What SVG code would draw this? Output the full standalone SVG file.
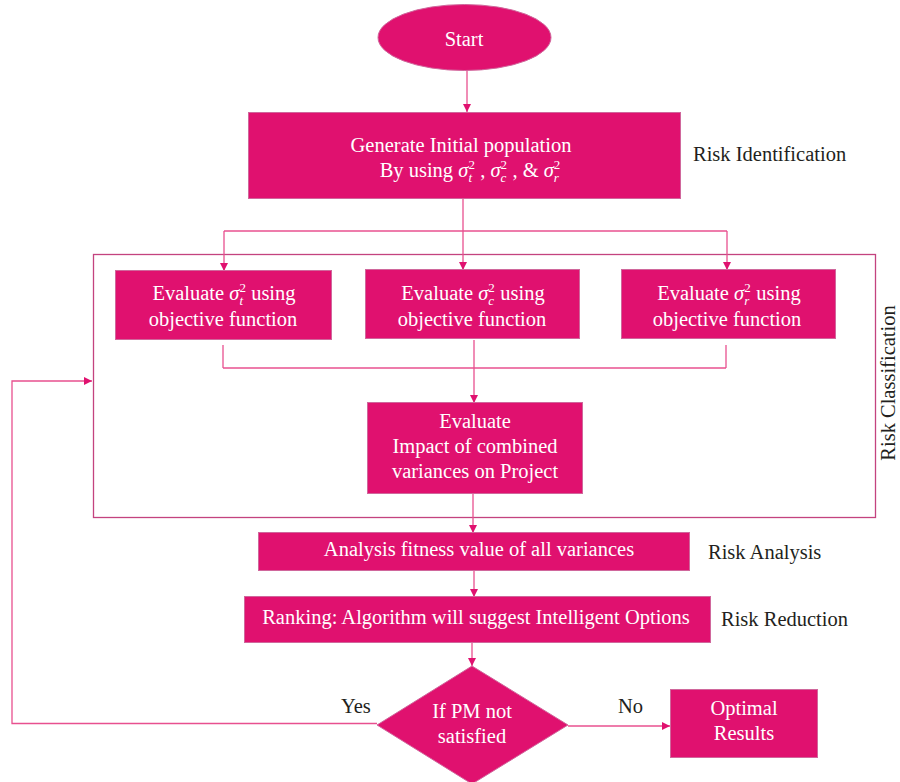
<svg xmlns="http://www.w3.org/2000/svg" width="900" height="782" viewBox="0 0 900 782">
<defs>
<marker id="ah" viewBox="0 0 10 10" refX="10" refY="5" markerWidth="8" markerHeight="8" markerUnits="userSpaceOnUse" orient="auto">
<path d="M0,0 L10,5 L0,10 z" fill="#E0116F"/>
</marker>
<style>
.box{fill:#E0116F;stroke:#D0679C;stroke-width:1}
.wt{fill:#FFFFFF;font-family:"Liberation Serif",serif;font-size:20.5px;text-anchor:middle}
.lb{fill:#231F20;font-family:"Liberation Serif",serif;font-size:20.5px}
.cn{fill:none;stroke:#E8508F;stroke-width:1.3}
.ar{fill:none;stroke:#E8508F;stroke-width:1.3;marker-end:url(#ah)}
.it{font-style:italic}
.sm{font-size:13px}
</style>
</defs>
<rect x="0" y="0" width="900" height="782" fill="#FFFFFF"/>

<g id="classification-frame">
<rect x="93.5" y="254.5" width="782" height="263" fill="none" stroke="#C4437F" stroke-width="1.3"/>
<text class="lb" transform="translate(895,383) rotate(-90)" text-anchor="middle">Risk Classification</text>
</g>

<g id="connectors">
<line class="ar" x1="467" y1="70" x2="467" y2="112"/>
<line class="cn" x1="463" y1="199" x2="463" y2="231"/>
<polyline class="cn" points="224,231 727,231"/>
<line class="ar" x1="224" y1="231" x2="224" y2="271"/>
<line class="ar" x1="463" y1="231" x2="463" y2="270"/>
<line class="ar" x1="727" y1="231" x2="727" y2="270"/>
<line class="cn" x1="223" y1="345" x2="223" y2="368"/>
<line class="cn" x1="474" y1="340" x2="474" y2="368"/>
<line class="cn" x1="726" y1="345" x2="726" y2="368"/>
<polyline class="cn" points="223,368 726,368"/>
<line class="ar" x1="474" y1="368" x2="474" y2="403"/>
<line class="ar" x1="473" y1="493" x2="473" y2="533"/>
<line class="ar" x1="474" y1="571" x2="474" y2="597"/>
<line class="ar" x1="472" y1="643" x2="472" y2="666"/>
<line class="ar" x1="568" y1="726" x2="670" y2="726"/>
<polyline class="ar" points="377,723.5 12,723.5 12,381 92,381"/>
</g>

<g id="start">
<ellipse cx="464.5" cy="37.5" rx="86.5" ry="33" class="box"/>
<text class="wt" x="464" y="46">Start</text>
</g>

<g id="generate">
<rect class="box" x="248.5" y="112.5" width="432" height="86"/>
<text class="wt" x="461" y="152">Generate Initial population</text>
<text class="wt" x="470" y="177">By using  <tspan class="it">σ</tspan><tspan class="sm" dy="-8">2</tspan><tspan class="sm it" dx="-6.5" dy="13">t</tspan><tspan dx="3" dy="-5"> , </tspan><tspan class="it">σ</tspan><tspan class="sm" dy="-8">2</tspan><tspan class="sm it" dx="-6.5" dy="13">c</tspan><tspan dx="1" dy="-5"> , &amp; </tspan><tspan class="it">σ</tspan><tspan class="sm" dy="-8">2</tspan><tspan class="sm it" dx="-6.5" dy="13">r</tspan></text>
</g>
<text class="lb" x="693" y="161">Risk Identification</text>

<g id="eval-t">
<rect class="box" x="115.5" y="270.5" width="216" height="69"/>
<text class="wt" x="224" y="300">Evaluate <tspan class="it">σ</tspan><tspan class="sm" dy="-8">2</tspan><tspan class="sm it" dx="-6.5" dy="13">t</tspan><tspan dx="3" dy="-5"> using</tspan></text>
<text class="wt" x="223" y="326">objective function</text>
</g>

<g id="eval-c">
<rect class="box" x="365.5" y="269.5" width="214" height="69"/>
<text class="wt" x="473" y="300">Evaluate <tspan class="it">σ</tspan><tspan class="sm" dy="-8">2</tspan><tspan class="sm it" dx="-6.5" dy="13">c</tspan><tspan dx="1" dy="-5"> using</tspan></text>
<text class="wt" x="472" y="326">objective function</text>
</g>

<g id="eval-r">
<rect class="box" x="621.5" y="269.5" width="214" height="69"/>
<text class="wt" x="729" y="300">Evaluate <tspan class="it">σ</tspan><tspan class="sm" dy="-8">2</tspan><tspan class="sm it" dx="-6.5" dy="13">r</tspan><tspan dx="2" dy="-5"> using</tspan></text>
<text class="wt" x="727" y="326">objective function</text>
</g>

<g id="evaluate-impact">
<rect class="box" x="367.5" y="402.5" width="215" height="91"/>
<text class="wt" x="475" y="428">Evaluate</text>
<text class="wt" x="475" y="453">Impact of combined</text>
<text class="wt" x="475" y="478">variances on Project</text>
</g>

<g id="analysis">
<rect class="box" x="258.5" y="532.5" width="431" height="38"/>
<text class="wt" x="479" y="556">Analysis fitness value of all variances</text>
</g>
<text class="lb" x="708" y="559">Risk Analysis</text>

<g id="ranking">
<rect class="box" x="244.5" y="596.5" width="466" height="46"/>
<text class="wt" x="476" y="624">Ranking: Algorithm will suggest Intelligent Options</text>
</g>
<text class="lb" x="721" y="626">Risk Reduction</text>

<g id="decision">
<polygon class="box" points="472,666 568,725 472,784 377,725"/>
<text class="wt" x="472" y="718">If PM not</text>
<text class="wt" x="472" y="743">satisfied</text>
</g>
<text class="lb" x="341" y="713">Yes</text>
<text class="lb" x="618" y="713">No</text>

<g id="optimal">
<rect class="box" x="670.5" y="689.5" width="147" height="68"/>
<text class="wt" x="744" y="715">Optimal</text>
<text class="wt" x="744" y="740">Results</text>
</g>
</svg>
